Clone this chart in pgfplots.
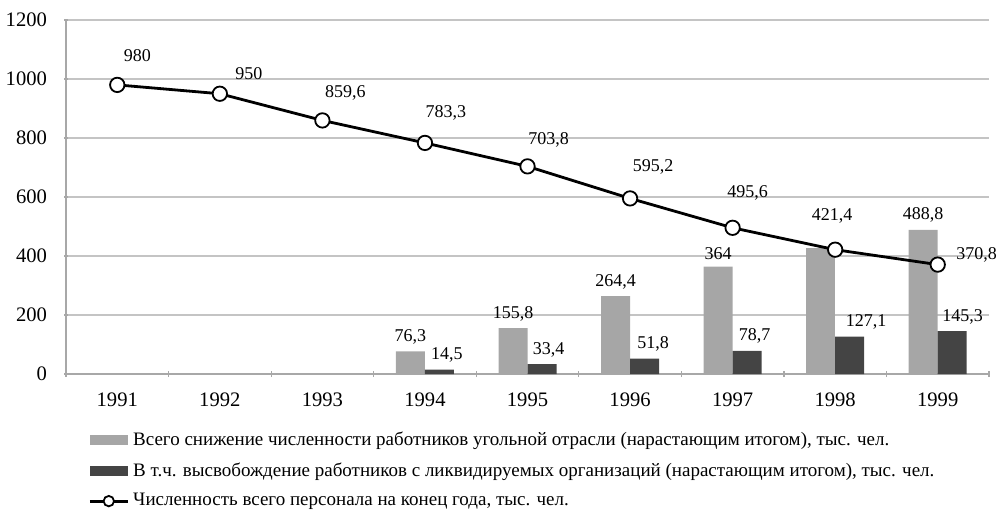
\documentclass[border=0pt]{standalone}
\usepackage{fontspec}
\setmainfont{Liberation Serif}
\usepackage{pgfplots}
\pgfplotsset{compat=1.18}
\usepackage{pgfplotstable}
\definecolor{barlight}{HTML}{A6A6A6}
\definecolor{bardark}{HTML}{444444}
\definecolor{gridc}{HTML}{C4C4C4}
\definecolor{axisc}{HTML}{A8A8A8}
\pgfplotsset{/pgf/number format/assume math mode=true}

\pgfplotstableread{
x y dx dy
0 980 10 14.5
1 950 14.5 10
2 859.6 11.5 14
3 783.3 10.5 15
4 703.8 10.5 13
5 595.2 11.5 15.5
6 495.6 7.5 17.5
7 421.4 -1.5 17
8 370.8 19.5 5
}\linedata

\pgfplotstableread{
x total
3 76.3
4 155.8
5 264.4
6 364
8 488.8
}\totaldata

\pgfplotstableread{
x total
7 428
}\totalnolabel

\pgfplotstableread{
x liq dx
3 14.5 11
4 33.4 10.5
5 51.8 11.5
6 78.7 11
7 127.1 15.5
8 145.3 12.5
}\liqdata

\begin{document}
\begin{tikzpicture}
\begin{axis}[
  name=ax,
  scale only axis,
  width=461.5pt, height=177pt,
  xmin=-0.5, xmax=8.5,
  ymin=0, ymax=1200,
  ytick={0,200,...,1200},
  xtick={0,...,8},
  xticklabels={1991,1992,1993,1994,1995,1996,1997,1998,1999},
  minor xtick={-0.5,0.5,...,8.5},
  major x tick style={draw=none},
  minor x tick style={draw=axisc, line width=0.6pt},
  minor tick length=3pt,
  major tick length=2pt,
  tick align=outside,
  ytick style={draw=axisc, line width=0.6pt},
  axis x line=bottom, axis y line=left,
  axis line style={draw=axisc, line width=0.7pt, -},
  ymajorgrids, grid style={draw=gridc, line width=0.7pt},
  tick label style={font=\fontsize{10.3}{12}\selectfont},
  xticklabel style={yshift=-5pt},
  yticklabel style={xshift=-5pt},
  /pgf/number format/.cd, use comma, 1000 sep={},
  /pgfplots/.cd,
  nodes near coords style={font=\fontsize{9}{11}\selectfont, text=black},
  legend style={at={(0,0)}, anchor=north west, xshift=8pt, yshift=-24.5pt,
    draw=none, fill=none, font=\fontsize{9.5}{11}\selectfont,
    row sep=3.2pt, legend cell align=left},
  legend cell align=left,
  clip=false,
]
\addplot[ybar, bar width=14.5pt, bar shift=-7.25pt, fill=barlight, draw=none,
  nodes near coords, nodes near coords align={vertical},
  nodes near coords style={xshift=-7.25pt},
  legend image code/.code={\fill[barlight] (0pt,-2.5pt) rectangle (19pt,2.5pt);}]
  table[x=x, y=total] {\totaldata};
\addlegendentry{Всего снижение численности работников угольной отрасли (нарастающим итогом), тыс. чел.}
\addplot[ybar, bar width=14.5pt, bar shift=-7.25pt, fill=barlight, draw=none, forget plot]
  table[x=x, y=total] {\totalnolabel};
\addplot[ybar, bar width=14.5pt, bar shift=7.25pt, fill=bardark, draw=none,
  visualization depends on={\thisrow{dx} \as \ddx},
  nodes near coords, nodes near coords align={vertical},
  nodes near coords style={xshift=\ddx pt},
  legend image code/.code={\fill[bardark] (0pt,-2.5pt) rectangle (19pt,2.5pt);}]
  table[x=x, y=liq] {\liqdata};
\addlegendentry{В т.ч. высвобождение работников с ликвидируемых организаций (нарастающим итогом), тыс. чел.}
\addplot[black, line width=1.4pt, mark=*, mark size=3.6pt,
  mark options={fill=white, draw=black, line width=0.9pt},
  visualization depends on={\thisrow{dx} \as \ldx},
  visualization depends on={\thisrow{dy} \as \ldy},
  nodes near coords,
  nodes near coords style={anchor=center, xshift=\ldx pt, yshift=\ldy pt},
  legend image code/.code={\draw[black, line width=1.4pt] (0pt,0pt) -- (19pt,0pt); \draw[fill=white, draw=black, line width=0.9pt] (9.5pt,0pt) circle (2.6pt);}]
  table[x=x, y=y] {\linedata};
\addlegendentry{Численность всего персонала на конец года, тыс. чел.}
\end{axis}
\pgfresetboundingbox
\path ([shift={(-33pt,-69pt)}]ax.south west) rectangle ([shift={(4pt,10pt)}]ax.north east);
\end{tikzpicture}
\end{document}
